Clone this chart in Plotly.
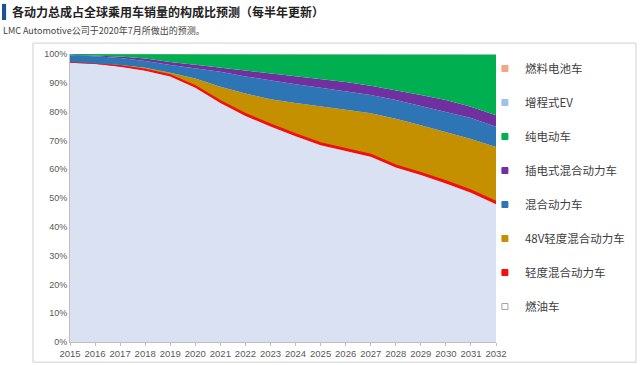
import plotly.graph_objects as go

years = list(range(2015, 2033))

ice = [97.0, 96.6, 95.6, 94.2, 92.2, 88.3, 83.0, 78.5, 74.8, 71.4, 68.3, 66.2, 64.3, 60.6, 58.0, 55.0, 51.8, 47.8]
mild = [0.2, 0.2, 0.3, 0.4, 0.5, 0.6, 0.7, 0.8, 0.8, 0.8, 0.8, 0.8, 0.8, 0.8, 0.8, 0.9, 0.9, 0.9]
mhev48 = [0.0, 0.0, 0.3, 0.6, 0.8, 2.6, 4.9, 7.0, 8.7, 10.8, 12.6, 13.6, 14.3, 16.1, 16.5, 17.1, 17.8, 19.0]
hev = [2.3, 2.4, 2.4, 2.4, 2.7, 3.5, 5.2, 5.9, 6.5, 6.5, 6.6, 6.4, 6.4, 6.5, 6.7, 7.0, 7.3, 7.0]
phev = [0.2, 0.3, 0.5, 0.8, 1.0, 1.3, 1.5, 2.0, 2.4, 2.7, 3.0, 3.3, 3.2, 3.5, 3.8, 4.0, 3.9, 4.0]
bev = [0.3, 0.5, 0.9, 1.6, 2.8, 3.6, 4.6, 5.7, 6.7, 7.7, 8.5, 9.5, 10.8, 12.3, 14.0, 15.8, 18.1, 21.1]
erev = [0.0, 0.0, 0.0, 0.0, 0.0, 0.1, 0.1, 0.1, 0.1, 0.1, 0.1, 0.1, 0.1, 0.1, 0.1, 0.1, 0.1, 0.1]
fcv = [0.0, 0.0, 0.0, 0.0, 0.0, 0.0, 0.0, 0.0, 0.0, 0.0, 0.1, 0.1, 0.1, 0.1, 0.1, 0.1, 0.1, 0.1]

series = [
    ("燃油车", ice, "#D9E1F2"),
    ("轻度混合动力车", mild, "#F01010"),
    ("48V轻度混合动力车", mhev48, "#C49000"),
    ("混合动力车", hev, "#2E75B6"),
    ("插电式混合动力车", phev, "#7030A0"),
    ("纯电动车", bev, "#00B050"),
    ("增程式EV", erev, "#9DC3E6"),
    ("燃料电池车", fcv, "#F4A582"),
]

fig = go.Figure()
for name, vals, col in series:
    lw = 1.6 if name == "轻度混合动力车" else 0
    fig.add_trace(go.Scatter(
        x=years, y=vals, name=name, mode="lines", stackgroup="one",
        line=dict(width=lw, color=col), fillcolor=col, showlegend=False,
    ))

# legend entries (top to bottom)
for name, vals, col in reversed(series):
    line_col = "#A6A6A6" if name == "燃油车" else col
    fill_col = "#FFFFFF" if name == "燃油车" else col
    fig.add_trace(go.Scatter(
        x=[None], y=[None], name=name, mode="markers", legendgroup=name,
        marker=dict(symbol="square", size=6, color=fill_col, line=dict(width=1, color=line_col)),
        showlegend=True,
    ))

fig.update_layout(
    width=640, height=365,
    margin=dict(l=70, r=144, t=54, b=23, autoexpand=False),
    paper_bgcolor="white", plot_bgcolor="white",
    font=dict(family="Noto Sans CJK SC, sans-serif", color="#404040"),
    showlegend=True,
    legend=dict(
        x=0.974, y=1.0, xanchor="left", yanchor="top",
        traceorder="grouped", tracegroupgap=15,
        font=dict(size=11.5, color="#404040", family="Noto Sans CJK SC, sans-serif"),
        bgcolor="rgba(0,0,0,0)", itemwidth=30,
    ),
    xaxis=dict(
        range=[2015, 2032], tickmode="linear", tick0=2015, dtick=1, tickangle=0, automargin=False,
        showgrid=False, zeroline=False, showline=True, linecolor="#BFBFBF", linewidth=1,
        ticks="outside", ticklen=3, tickcolor="#BFBFBF",
        tickfont=dict(size=9.5, color="#595959", family="Liberation Sans, Arial, sans-serif"),
    ),
    yaxis=dict(
        range=[0, 100], tickmode="linear", tick0=0, dtick=10, ticksuffix="%", automargin=False,
        showgrid=False, zeroline=False, showline=True, linecolor="#BFBFBF", linewidth=1,
        tickfont=dict(size=9, color="#595959", family="Liberation Sans, Arial, sans-serif"),
    ),
    shapes=[
        dict(type="rect", xref="paper", yref="paper", x0=-0.087, x1=1.3286, y0=-0.07, y1=1.038,
             line=dict(color="#D0D0D0", width=1), fillcolor="rgba(0,0,0,0)", layer="below"),
        dict(type="rect", xref="paper", yref="paper", x0=-0.1596, x1=-0.150, y0=1.118, y1=1.174,
             line=dict(width=0), fillcolor="#1F4E9A"),
    ],
    annotations=[
        dict(text="<b>各动力总成占全球乘用车销量的构成比预测（每半年更新）</b>", xref="paper", yref="paper",
             x=-0.141, y=1.146, xanchor="left", yanchor="middle", showarrow=False,
             font=dict(size=12, color="#222222", family="Noto Sans CJK SC, sans-serif")),
        dict(text="LMC Automotive公司于2020年7月所做出的预测。", xref="paper", yref="paper",
             x=-0.162, y=1.083, xanchor="left", yanchor="middle", showarrow=False,
             font=dict(size=9, color="#444444", family="Noto Sans CJK SC, sans-serif")),
    ],
)

fig.write_html(
    "out.html",
    config={"displayModeBar": False},
    post_script="document.body.style.margin='0';document.body.style.overflow='hidden';",
)
